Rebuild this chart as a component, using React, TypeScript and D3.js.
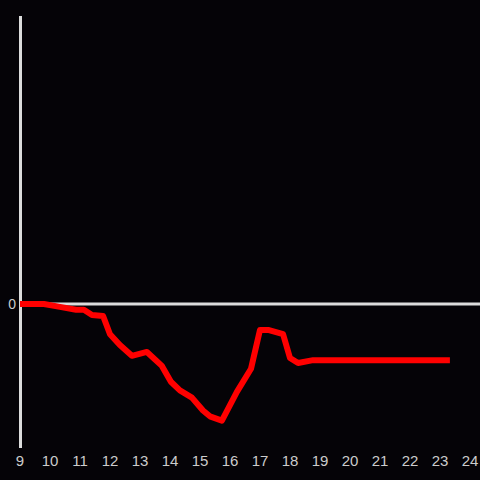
import React from "react";
import * as d3 from "d3";

const times = [9, 9.8, 10.33, 10.87, 11.13, 11.4, 11.77, 12, 12.33, 12.73, 13.23, 13.73, 14.03, 14.33, 14.73, 15.1, 15.33, 15.73, 16.23, 16.7, 17, 17.27, 17.77, 18, 18.27, 18.77, 23.33];
const values = [0, 0, -0.02, -0.04, -0.04, -0.076, -0.083, -0.21, -0.285, -0.36, -0.333, -0.43, -0.54, -0.6, -0.65, -0.74, -0.78, -0.81, -0.61, -0.45, -0.18, -0.18, -0.21, -0.375, -0.41, -0.39, -0.39];
const xTicks = [9, 10, 11, 12, 13, 14, 15, 16, 17, 18, 19, 20, 21, 22, 23, 24];
const yTicks = [0];

export default function App() {
  const W = 480, H = 480;
  const x = d3.scaleLinear().domain([9, 24]).range([20, 470]);
  const y = d3.scaleLinear().domain([-1, 2]).range([448, 16]);
  const pts = times.map((t, i) => [t, values[i]] as [number, number]);
  const line = d3.line<[number, number]>().x(d => x(d[0])).y(d => y(d[1]));
  return (
    <div style={{ position: "fixed", left: 0, top: 0, width: W, height: H }}>
      <svg width={W} height={H} style={{ display: "block", background: "#050307" }}>
        <rect x={0} y={0} width={W} height={H} fill="#050307" />
        <line x1={20.5} x2={20.5} y1={16} y2={448} stroke="#dcdcdc" strokeWidth={3} />
        {yTicks.map(v => (
          <g key={v}>
            <line x1={20} x2={480} y1={y(v)} y2={y(v)} stroke="#dcdcdc" strokeWidth={3} />
            <text x={16} y={y(v) + 5} textAnchor="end" fill="#cccccc" fontSize={14} fontFamily="Liberation Sans, Arial, sans-serif">{v}</text>
          </g>
        ))}
        {xTicks.map(t => (
          <text key={t} x={x(t)} y={466} textAnchor="middle" fill="#cccccc" fontSize={15} fontFamily="Liberation Sans, Arial, sans-serif">{t}</text>
        ))}
        <path d={line(pts) || ""} fill="none" stroke="#ff0000" strokeWidth={6} strokeLinejoin="round" />
      </svg>
    </div>
  );
}
